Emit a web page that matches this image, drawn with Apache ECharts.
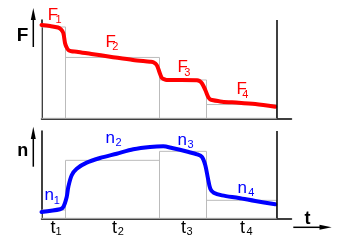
<!DOCTYPE html>
<html><head><meta charset="utf-8">
<script src="https://cdn.jsdelivr.net/npm/echarts@6/dist/echarts.min.js"></script>
<style>html,body{margin:0;padding:0;background:#fff}#c{width:344px;height:244px}</style>
</head><body><div id="c"></div>
<script>
// Stage boundaries along time axis (arbitrary units)
const stageEdges = [0, 24, 118, 165, 235];
// Stage levels (gray boxes), 0..100 scale
const forceLevels = [92.9, 61.9, 39.0, 14.0];
const speedLevels = [9.5, 66.4, 76.7, 20.6];
// Force curve F(t)
const forceTime   = [0, 8.5, 16.5, 19.5, 21.8, 23.5, 25, 26.8, 30, 35.2, 50, 68.5, 91.5, 108.5, 111.8, 115.2, 117.8, 120.2, 122.5, 125.2, 140, 155.5, 158, 160.5, 163.8, 166.5, 168.5, 170.5, 180.5, 197.2, 213.8, 233.8];
const forceValues = [94.9, 93.9, 92.4, 90.5, 86.8, 76.6, 72.5, 69.5, 68.2, 67.8, 65.4, 62.7, 59.3, 57.5, 57.0, 54.2, 47.4, 41.3, 39.8, 39.0, 39.0, 38.8, 37.9, 35.6, 28.8, 22.0, 19.3, 18.6, 16.9, 15.9, 14.5, 11.8];
// Speed curve n(t)
const speedTime   = [0, 18.5, 21.8, 25.2, 26.8, 30.2, 35.2, 45.2, 58.5, 75.2, 91.8, 108.5, 121.8, 130.5, 147.2, 155.5, 160.5, 163.8, 166.5, 168.8, 172.2, 180.5, 197.2, 213.8, 233.8];
const speedValues = [7.2, 10.3, 12.9, 24.4, 35.9, 49.3, 56.8, 63.7, 69.1, 74.0, 79.0, 81.7, 82.5, 80.5, 75.9, 73.3, 70.2, 60.7, 45.4, 33.9, 29.3, 26.3, 23.3, 19.8, 16.0];
// Labels
const forceLabel = 'F', speedLabel = 'n', timeLabel = 't';
const stageSubs = ['1', '2', '3', '4'];

const FONT = '"Liberation Sans", Arial, sans-serif';
const zip = (a, b) => a.map((v, i) => [v, b[i]]);
const boxes = lv => lv.map((l, i) => [{coord: [stageEdges[i], 0]}, {coord: [stageEdges[i + 1], l]}]);

const axisBase = {axisTick:{show:false}, axisLabel:{show:false}, splitLine:{show:false},
  axisLine:{show:true, lineStyle:{color:'#000', width:1.5}}};

function txt(x, y, t, size, color, bold) {
  return {type:'text', x:x, y:y, z:100, style:{text:t, fill:color,
    font:(bold ? 'bold ' : '') + size + 'px ' + FONT, verticalAlign:'middle', align:'left'}};
}
const graphic = [];
// curve labels with subscripts
const fPos = [[47.7,15,55.5,19.5],[105.4,42,112.3,47.3],[177.4,67.5,184.3,72.5],[236.4,89,242.3,95]];
const nPos = [[44.5,195.8,53.8,201.3],[105.5,138,115.6,143.2],[177.5,140,187.6,145],[237.5,188,248.3,193.2]];
const tPos = [[50.4,228,55.4,232.3],[112,228.2,117.8,232.3],[181,228.2,186.6,232.3],[240,228.2,246.6,232.3]];
fPos.forEach((p, i) => { graphic.push(txt(p[0], p[1], forceLabel, 17, '#ff0000')); graphic.push(txt(p[2], p[3], stageSubs[i], 11, '#ff0000')); });
nPos.forEach((p, i) => { graphic.push(txt(p[0], p[1], speedLabel, 17, '#0000ff')); graphic.push(txt(p[2], p[3], stageSubs[i], 11, '#0000ff')); });
tPos.forEach((p, i) => { graphic.push(txt(p[0], p[1], timeLabel, 18, '#000')); graphic.push(txt(p[2], p[3], stageSubs[i], 11, '#000')); });
// axis names
graphic.push(txt(16.7, 36, forceLabel, 19, '#000', true));
graphic.push(txt(17.2, 151.2, speedLabel, 18, '#000', true));
graphic.push(txt(304.6, 219.5, timeLabel, 18, '#000', true));
// arrows
const ln = (x1, y1, x2, y2) => ({type:'line', z:100, shape:{x1, y1, x2, y2}, style:{stroke:'#000', lineWidth:1.5}});
const tri = pts => ({type:'polygon', z:100, shape:{points:pts}, style:{fill:'#000'}});
graphic.push(ln(33.3, 18, 33.3, 47), tri([[33.3, 8], [30.8, 20], [35.8, 20]]));
graphic.push(ln(33.3, 137, 33.3, 166.7), tri([[33.3, 126.7], [30.8, 139], [35.8, 139]]));
graphic.push(ln(293.3, 227.3, 322, 227.3), tri([[331.7, 227.3], [319.5, 224.8], [319.5, 229.8]]));

const chart = echarts.init(document.getElementById('c'), null, {renderer:'canvas'});
chart.setOption({
  animation:false,
  backgroundColor:'#fff',
  grid:[{left:41.5, top:20, width:250, height:98.3}, {left:41.5, top:131, width:250, height:87.3}],
  xAxis:[Object.assign({type:'value', gridIndex:0, min:0, max:250}, axisBase),
         Object.assign({type:'value', gridIndex:1, min:0, max:250}, axisBase)],
  yAxis:[Object.assign({type:'value', gridIndex:0, min:0, max:100}, axisBase),
         Object.assign({type:'value', gridIndex:1, min:0, max:100}, axisBase)],
  series:[
    {type:'line', xAxisIndex:0, yAxisIndex:0, data:[], z:1, silent:true,
     markArea:{silent:true, itemStyle:{color:'rgba(0,0,0,0)', borderColor:'#bbbbbb', borderWidth:1}, data:boxes(forceLevels)},
     markLine:{silent:true, symbol:'none', label:{show:false}, lineStyle:{color:'#000', width:1.5, type:'solid'}, data:[{xAxis:stageEdges[4]}]}},
    {type:'line', xAxisIndex:1, yAxisIndex:1, data:[], z:1, silent:true,
     markArea:{silent:true, itemStyle:{color:'rgba(0,0,0,0)', borderColor:'#bbbbbb', borderWidth:1}, data:boxes(speedLevels)},
     markLine:{silent:true, symbol:'none', label:{show:false}, lineStyle:{color:'#000', width:1.5, type:'solid'}, data:[{xAxis:stageEdges[4]}]}},
    {type:'line', xAxisIndex:0, yAxisIndex:0, z:3, data:zip(forceTime, forceValues), smooth:0.3, showSymbol:false,
     lineStyle:{color:'#ff0000', width:4, cap:'round', join:'round'}},
    {type:'line', xAxisIndex:1, yAxisIndex:1, z:3, data:zip(speedTime, speedValues), smooth:0.3, showSymbol:false,
     lineStyle:{color:'#0000ff', width:4, cap:'round', join:'round'}}
  ],
  graphic: graphic
});
</script></body></html>
